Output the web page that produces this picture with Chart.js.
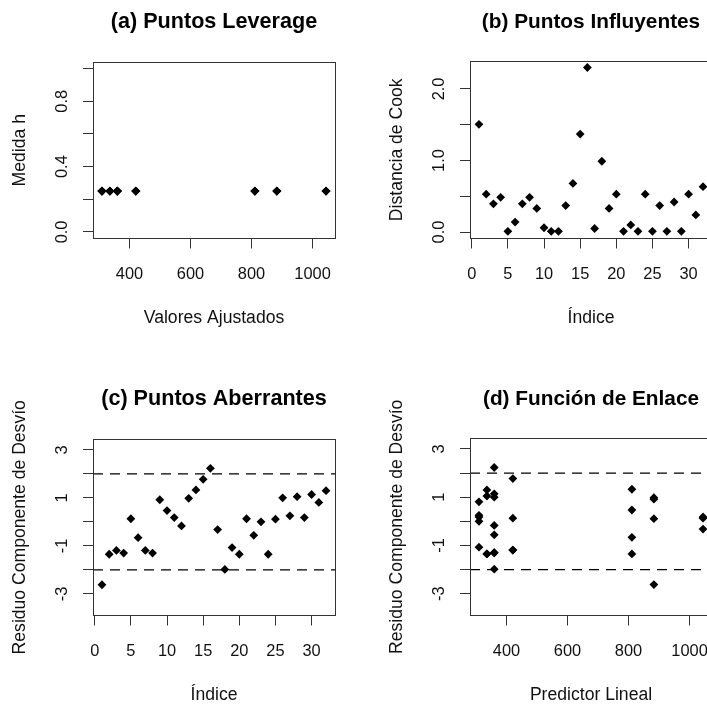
<!DOCTYPE html>
<html>
<head>
<meta charset="utf-8">
<script src="https://cdn.jsdelivr.net/npm/chart.js@4.4.1/dist/chart.umd.min.js"></script>
<style>
  html, body { margin: 0; padding: 0; background: #fff; }
  body { width: 707px; height: 705px; overflow: hidden; position: relative; }
  canvas { position: absolute; }
</style>
</head>
<body>
<canvas id="panelA" width="377" height="377" style="left:0;top:0"></canvas>
<canvas id="panelB" width="377" height="377" style="left:377px;top:0"></canvas>
<canvas id="panelC" width="377" height="377" style="left:0;top:377px"></canvas>
<canvas id="panelD" width="377" height="377" style="left:377px;top:377px"></canvas>
<script>
// Datos por observación (32 observaciones)
const indice = [1, 2, 3, 4, 5, 6, 7, 8, 9, 10, 11, 12, 13, 14, 15, 16, 17, 18, 19, 20, 21, 22, 23, 24, 25, 26, 27, 28, 29, 30, 31, 32];
const ajustados = [883, 336, 421, 360, 1044, 811, 421, 360, 883, 811, 310, 360, 883, 811, 421, 360, 1044, 360, 310, 811, 421, 360, 310, 336, 883, 360, 310, 336, 1044, 360, 310, 336];
const medidaH = [0.25, 0.25, 0.25, 0.25, 0.25, 0.25, 0.25, 0.25, 0.25, 0.25, 0.25, 0.25, 0.25, 0.25, 0.25, 0.25, 0.25, 0.25, 0.25, 0.25, 0.25, 0.25, 0.25, 0.25, 0.25, 0.25, 0.25, 0.25, 0.25, 0.25, 0.25, 0.25];
const distCook = [1.506, 0.53, 0.395, 0.485, 0.01, 0.14, 0.395, 0.485, 0.33, 0.06, 0.01, 0.01, 0.37, 0.68, 1.37, 2.30, 0.05, 0.99, 0.33, 0.53, 0.01, 0.10, 0.01, 0.53, 0.01, 0.37, 0.01, 0.42, 0.01, 0.53, 0.24, 0.635];
const residuos = [-2.62, -1.35, -1.19, -1.30, 0.13, -0.66, -1.19, -1.30, 0.92, 0.47, 0.18, -0.17, 0.98, 1.33, 1.77, 2.23, -0.32, -1.98, -1.07, -1.35, 0.13, -0.56, 0.0, -1.35, 0.11, 1.0, 0.25, 1.05, 0.18, 1.14, 0.81, 1.30];

// Líneas de referencia (±2)
const limitesResiduo = [-2, 2];

// Rangos de los ejes
const rangoAjustados = [280.6, 1073.4];
const rangoIndice = [-0.24, 33.24];
const rangoH = [-0.04, 1.04];
const rangoCook = [-0.09, 2.39];
const rangoResiduo = [-3.9, 3.45];

// Marcas y etiquetas de los ejes
const ticksAjustados = [400, 600, 800, 1000];
const etiqAjustados = ['400', '600', '800', '1000'];
const ticksIndice = [0, 5, 10, 15, 20, 25, 30];
const etiqIndice = ['0', '5', '10', '15', '20', '25', '30'];
const ticksH = [0, 0.2, 0.4, 0.6, 0.8, 1.0];
const etiqH = ['0.0', '', '0.4', '', '0.8', ''];
const ticksCook = [0, 0.5, 1.0, 1.5, 2.0];
const etiqCook = ['0.0', '', '1.0', '', '2.0'];
const ticksResiduo = [-3, -2, -1, 0, 1, 2, 3];
const etiqResiduo = ['-3', '', '-1', '', '1', '', '3'];

const FUENTE = 'Liberation Sans, Arial, sans-serif';
const TAM_TICK = 16.4;

// Medir la etiqueta más ancha para centrar las etiquetas giradas del eje y
const medir = document.createElement('canvas').getContext('2d');
medir.font = TAM_TICK + 'px ' + FUENTE;
const anchoMax = etiquetas => Math.max(...etiquetas.map(t => medir.measureText(t).width));

// Marco alrededor del área de gráfico (estilo R)
const marco = {
    id: 'marco',
    afterDatasetsDraw(chart) {
        const {ctx, chartArea: a} = chart;
        ctx.save();
        ctx.strokeStyle = '#333';
        ctx.lineWidth = 1;
        ctx.strokeRect(Math.round(a.left) + 0.5, Math.round(a.top) + 0.5,
            Math.round(a.right - a.left), Math.round(a.bottom - a.top));
        ctx.restore();
    }
};

const eje = (rango, ticks, etiquetas, titulo, esY) => ({
    type: 'linear',
    min: rango[0],
    max: rango[1],
    afterBuildTicks: s => { s.ticks = ticks.map(v => ({value: v})); },
    afterFit: s => {
        if (esY) s.width = 93;
        else s.height = 138.5;
    },
    grid: {drawOnChartArea: false, drawTicks: true, tickLength: 10, tickColor: '#333', tickWidth: 1},
    border: {display: false},
    ticks: esY ? {
        autoSkip: false, minRotation: 90, maxRotation: 90, crossAlign: 'center',
        padding: 31 - 10 - anchoMax(etiquetas) / 2,
        font: {family: FUENTE, size: TAM_TICK}, color: '#111',
        callback: (v, i) => etiquetas[i]
    } : {
        autoSkip: false, maxRotation: 0, padding: 16.5,
        font: {family: FUENTE, size: TAM_TICK}, color: '#111',
        callback: (v, i) => etiquetas[i]
    },
    title: {
        display: true, text: titulo, color: '#111',
        font: {family: FUENTE, size: 17.6},
        padding: esY ? {top: 9.4, bottom: 0} : {top: 0, bottom: 48.6}
    }
});

const crearPanel = (id, p) => {
    const datasets = [{
        data: p.x.map((x, i) => ({x: x, y: p.y[i]})),
        pointStyle: 'rectRot',
        pointRadius: 4.4,
        pointHoverRadius: 4.4,
        backgroundColor: '#000',
        borderWidth: 0
    }];
    (p.lineas || []).forEach(v => {
        datasets.push({
            data: [{x: p.rangoX[0], y: v}, {x: p.rangoX[1], y: v}],
            showLine: true,
            pointRadius: 0,
            borderColor: '#000',
            borderWidth: 1.3,
            borderDash: [10, 7]
        });
    });

    new Chart(document.getElementById(id), {
        type: 'scatter',
        data: {datasets: datasets},
        options: {
            responsive: false,
            animation: false,
            events: [],
            layout: {padding: {left: 0, top: 0, right: 42, bottom: 0}},
            plugins: {
                legend: {display: false},
                tooltip: {enabled: false},
                title: {
                    display: true, text: p.titulo, fullSize: false, color: '#000',
                    font: {family: FUENTE, size: p.tamTitulo || 21.6, weight: 'bold'},
                    padding: {top: 9.4, bottom: 26.7}
                }
            },
            scales: {
                x: eje(p.rangoX, p.ticksX, p.etiqX, p.tituloX, false),
                y: eje(p.rangoY, p.ticksY, p.etiqY, p.tituloY, true)
            }
        },
        plugins: [marco]
    });
};

crearPanel('panelA', {
    titulo: '(a) Puntos Leverage', x: ajustados, y: medidaH,
    rangoX: rangoAjustados, ticksX: ticksAjustados, etiqX: etiqAjustados, tituloX: 'Valores Ajustados',
    rangoY: rangoH, ticksY: ticksH, etiqY: etiqH, tituloY: 'Medida h'
});

crearPanel('panelB', {
    titulo: '(b) Puntos Influyentes', tamTitulo: 20.8, x: indice, y: distCook,
    rangoX: rangoIndice, ticksX: ticksIndice, etiqX: etiqIndice, tituloX: 'Índice',
    rangoY: rangoCook, ticksY: ticksCook, etiqY: etiqCook, tituloY: 'Distancia de Cook'
});

crearPanel('panelC', {
    titulo: '(c) Puntos Aberrantes', x: indice, y: residuos, lineas: limitesResiduo,
    rangoX: rangoIndice, ticksX: ticksIndice, etiqX: etiqIndice, tituloX: 'Índice',
    rangoY: rangoResiduo, ticksY: ticksResiduo, etiqY: etiqResiduo, tituloY: 'Residuo Componente de Desvío'
});

crearPanel('panelD', {
    titulo: '(d) Función de Enlace', tamTitulo: 20.8, x: ajustados, y: residuos, lineas: limitesResiduo,
    rangoX: rangoAjustados, ticksX: ticksAjustados, etiqX: etiqAjustados, tituloX: 'Predictor Lineal',
    rangoY: rangoResiduo, ticksY: ticksResiduo, etiqY: etiqResiduo, tituloY: 'Residuo Componente de Desvío'
});
</script>
</body>
</html>
